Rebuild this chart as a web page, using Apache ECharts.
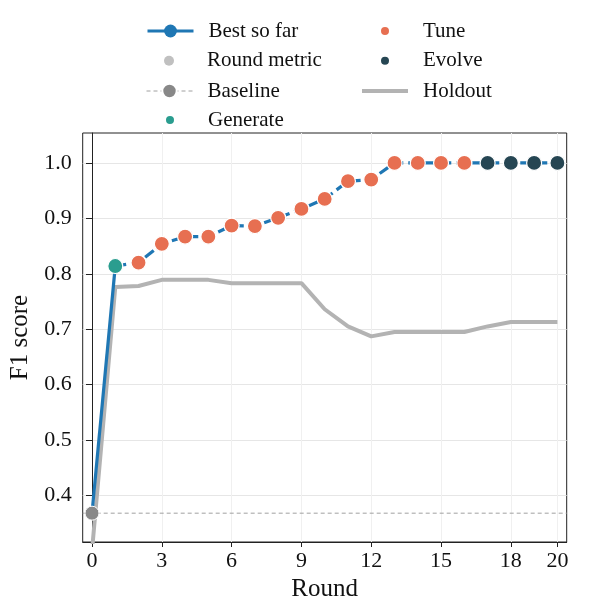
<!DOCTYPE html>
<html>
<head>
<meta charset="utf-8">
<script src="https://cdn.jsdelivr.net/npm/echarts@6/dist/echarts.min.js"></script>
<style>html,body{margin:0;padding:0;background:#fff}#c{width:594px;height:614px}</style>
</head>
<body>
<div id="c"></div>
<script>
const rounds = [0,1,2,3,4,5,6,7,8,9,10,11,12,13,14,15,16,17,18,19,20];
const bestSoFar = [0.368,0.814,0.820,0.854,0.867,0.867,0.887,0.886,0.901,0.917,0.935,0.967,0.970,1.0,1.0,1.0,1.0,1.0,1.0,1.0,1.0];
const holdout = [0.30,0.776,0.778,0.789,0.789,0.789,0.783,0.783,0.783,0.783,0.736,0.705,0.687,0.695,0.695,0.695,0.695,0.705,0.713,0.713,0.713];
const roundType = ['baseline','generate','tune','tune','tune','tune','tune','tune','tune','tune','tune','tune','tune','tune','tune','tune','tune','evolve','evolve','evolve','evolve'];
const baselineValue = 0.368;
const xTicks = [0,3,6,9,12,15,18,20];
const yTicks = [0.4,0.5,0.6,0.7,0.8,0.9,1.0];

const FONT = 'Liberation Serif';
const pts = t => rounds.filter((r,i)=>roundType[i]===t).map(r=>[r,bestSoFar[r]]);

const chart = echarts.init(document.getElementById('c'), null, {renderer:'canvas'});
const rowCenters = [31, 60.7, 91, 120];
function leg(name, left, row, extra){
  return Object.assign({
    data:[name], left:left, top:rowCenters[row]-11, orient:'vertical', padding:0,
    itemWidth:46, itemHeight:10, selectedMode:false,
    textStyle:{fontFamily:FONT, fontSize:21, color:'#111', lineHeight:22, padding:[0,0,0,10]}
  }, extra||{});
}
chart.setOption({
  animation:false,
  textStyle:{fontFamily:FONT},
  legend:[
    leg('Best so far',146,0,{itemHeight:16, lineStyle:{width:3}}),
    leg('Round metric',164,1),
    leg('Baseline',146,2,{itemHeight:18, lineStyle:{width:1}}),
    leg('Generate',164,3),
    leg('Tune',379,0),
    leg('Evolve',379,1),
    leg('Holdout',362,2,{itemHeight:4, icon:'rect'})
  ],
  grid:{left:82.7, right:27.3, top:133, bottom:72, show:true, borderColor:'#222', borderWidth:1, backgroundColor:'#fff'},
  xAxis:{
    type:'value', min:-0.4, max:20.4,
    name:'Round', nameLocation:'middle', nameGap:33,
    nameTextStyle:{fontFamily:FONT, fontSize:25, color:'#111'},
    axisLine:{show:true, lineStyle:{color:'#222', width:1}},
    axisTick:{show:true, length:5, customValues:xTicks, lineStyle:{color:'#222'}},
    axisLabel:{fontFamily:FONT, fontSize:22, color:'#111', margin:8, customValues:xTicks},
    splitLine:{show:true, lineStyle:{color:'#f0f0f0', width:1}}
  },
  yAxis:{
    type:'value', min:0.316, max:1.054,
    name:'F1 score', nameLocation:'middle', nameGap:45,
    nameTextStyle:{fontFamily:FONT, fontSize:25, color:'#111'},
    axisLine:{show:true, lineStyle:{color:'#222', width:1}},
    axisTick:{show:true, length:6, customValues:yTicks, lineStyle:{color:'#222'}},
    axisLabel:{fontFamily:FONT, fontSize:22, color:'#111', margin:11, customValues:yTicks, formatter:v=>v.toFixed(1)},
    splitLine:{show:true, lineStyle:{color:'#e6e6e6', width:1}}
  },
  series:[
    {name:'Holdout', type:'line', data:rounds.map((r,i)=>[r,holdout[i]]), showSymbol:false, symbol:'none',
     lineStyle:{color:'#b3b3b3', width:4}, itemStyle:{color:'#b3b3b3'}, z:2},
    {name:'Baseline', type:'line', symbol:'circle', symbolSize:14,
     data:[{value:[-0.4,baselineValue], symbolSize:0},{value:[0,baselineValue]},{value:[20.4,baselineValue], symbolSize:0}],
     lineStyle:{color:'#a0a0a0', width:1, type:[4,3]}, itemStyle:{color:'#888888', borderColor:'#fff', borderWidth:1}, z:6},
    {name:'Best so far', type:'line', symbol:'circle', symbolSize:12, showSymbol:true,
     data:rounds.slice(0,2).map(r=>[r,bestSoFar[r]]),
     lineStyle:{color:'#1f77b4', width:3.2}, itemStyle:{color:'#1f77b4'}, z:3},
    {name:'Best so far dashed', type:'line', symbol:'none',
     data:rounds.slice(1).map(r=>[r,bestSoFar[r]]),
     lineStyle:{color:'#1f77b4', width:3.2, type:[11,5]}, z:3},
    {name:'Round metric', type:'scatter', data:[], symbolSize:12, itemStyle:{color:'#c0c0c0', opacity:1}},
    {name:'Generate', type:'scatter', data:pts('generate'), symbolSize:15, itemStyle:{color:'#2a9d8f', borderColor:'#fff', borderWidth:1.2, opacity:1}, z:5},
    {name:'Tune', type:'scatter', data:pts('tune'), symbolSize:15, itemStyle:{color:'#e76f51', borderColor:'#fff', borderWidth:1.2, opacity:1}, z:5},
    {name:'Evolve', type:'scatter', data:pts('evolve'), symbolSize:15, itemStyle:{color:'#264653', borderColor:'#fff', borderWidth:1.2, opacity:1}, z:5}
  ]
});
</script>
</body>
</html>
